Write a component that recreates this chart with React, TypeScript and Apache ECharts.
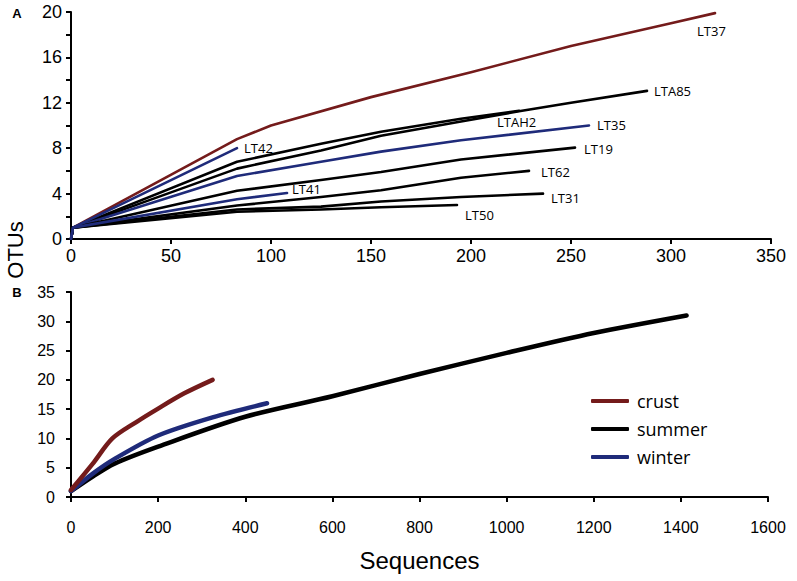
import React, { useEffect, useRef } from "react";
import * as echarts from "echarts";

// ---------- Panel A data (Sequences, OTUs) ----------
const LT37 = [[0, 0], [1, 1], [83, 8.8], [100, 10], [150, 12.5], [200, 14.7], [250, 17], [300, 19], [322, 19.9]];
const LT42 = [[0, 0], [1, 1], [83, 8.0]];
const LTA85 = [[0, 0], [1, 1], [83, 6.2], [125, 7.8], [155, 9.1], [195, 10.35], [224, 11.25], [250, 12.0], [288, 13.05]];
const LTAH2 = [[0, 0], [1, 1], [83, 6.8], [125, 8.4], [155, 9.45], [195, 10.6], [224, 11.3]];
const LT35 = [[0, 0], [1, 1], [83, 5.55], [125, 6.8], [155, 7.7], [195, 8.7], [259, 10.0]];
const LT19 = [[0, 0], [1, 1], [83, 4.25], [125, 5.2], [155, 5.9], [195, 7.0], [252, 8.05]];
const LT41 = [[0, 0], [1, 1], [83, 3.5], [108, 4.05]];
const LT62 = [[0, 0], [1, 1], [83, 2.95], [125, 3.7], [155, 4.3], [195, 5.4], [229, 6.0]];
const LT31 = [[0, 0], [1, 1], [83, 2.6], [125, 2.85], [155, 3.3], [195, 3.7], [236, 4.0]];
const LT50 = [[0, 0], [1, 1], [83, 2.4], [125, 2.6], [155, 2.8], [193, 3.0]];

// ---------- Panel B data ----------
const CRUST = [[0, 1.2], [50, 5.7], [95, 10], [150, 12.8], [200, 15.1], [260, 17.7], [325, 20]];
const WINTER = [[0, 1], [50, 4], [100, 6.5], [200, 10.5], [325, 13.6], [450, 16]];
const SUMMER = [[0, 1], [50, 3.5], [100, 5.7], [200, 8.6], [400, 13.7], [600, 17.2], [800, 21], [1000, 24.6], [1200, 28], [1413, 31]];

const LEGEND_NAMES = ["crust", "summer", "winter"];

// ---------- styles ----------
const RED = "#741b1b";
const BLUE = "#1f2b7a";
const BLACK = "#000000";
const SANS = "Liberation Sans, Arial, sans-serif";
const LABEL_FONT = "Open Sans, sans-serif";

const panelA = [
  { name: "LT37", data: LT37, color: RED, off: [-18, 18] },
  { name: "LTA85", data: LTA85, color: BLACK, off: [7, 0] },
  { name: "LTAH2", data: LTAH2, color: BLACK, off: [-22, 11] },
  { name: "LT35", data: LT35, color: BLUE, off: [8, -1] },
  { name: "LT19", data: LT19, color: BLACK, off: [9, 1] },
  { name: "LT62", data: LT62, color: BLACK, off: [12, 1] },
  { name: "LT31", data: LT31, color: BLACK, off: [8, 4] },
  { name: "LT50", data: LT50, color: BLACK, off: [8, 10] },
  { name: "LT41", data: LT41, color: BLUE, off: [5, -4] },
  { name: "LT42", data: LT42, color: BLUE, off: [7, 0] },
];

const panelB = [
  { name: "summer", data: SUMMER, color: BLACK },
  { name: "winter", data: WINTER, color: BLUE },
  { name: "crust", data: CRUST, color: RED },
];

const axisLine = { show: true, lineStyle: { color: "#000", width: 2 } };
const axisTick = { show: true, length: 5, inside: false, lineStyle: { color: "#000", width: 2 } };
const plain = (v: number) => String(v);

function centered(text: string, size: number, bold: boolean) {
  return {
    text,
    fontSize: size,
    fontWeight: bold ? "bold" : "normal",
    fontFamily: SANS,
    fill: "#000",
    align: "center",
    verticalAlign: "middle",
    textAlign: "center",
    textVerticalAlign: "middle",
  };
}

function buildOption() {
  const seriesA = panelA.map((s) => ({
    type: "line",
    name: s.name,
    xAxisIndex: 0,
    yAxisIndex: 0,
    data: s.data,
    symbol: "none",
    color: s.color,
    lineStyle: { color: s.color, width: 2.6, cap: "round", join: "round" },
    endLabel: {
      show: true,
      formatter: s.name,
      distance: 0,
      offset: s.off,
      align: "left",
      verticalAlign: "middle",
      fontSize: 13,
      fontFamily: LABEL_FONT,
      color: "#000",
    },
    emphasis: { disabled: true },
    z: 3,
  }));
  const seriesB = panelB.map((s) => ({
    type: "line",
    name: s.name,
    xAxisIndex: 1,
    yAxisIndex: 1,
    data: s.data,
    symbol: "none",
    smooth: 0.3,
    color: s.color,
    itemStyle: { color: s.color },
    lineStyle: { color: s.color, width: 4.5, cap: "round", join: "round" },
    emphasis: { disabled: true },
    z: 3,
  }));

  return {
    animation: false,
    backgroundColor: "#fff",
    grid: [
      { left: 71, right: 26, top: 12, bottom: 342 },
      { left: 71, right: 29, top: 292, bottom: 84 },
    ],
    xAxis: [
      {
        type: "value",
        gridIndex: 0,
        min: 0,
        max: 350,
        interval: 50,
        axisLine,
        axisTick,
        splitLine: { show: false },
        axisLabel: { fontSize: 18, fontFamily: SANS, color: "#000", margin: 8, formatter: plain },
      },
      {
        type: "value",
        gridIndex: 1,
        min: 0,
        max: 1600,
        interval: 200,
        axisLine,
        axisTick,
        splitLine: { show: false },
        axisLabel: { fontSize: 16, fontFamily: SANS, color: "#000", margin: 22, formatter: plain },
        name: "Sequences",
        nameLocation: "middle",
        nameGap: 51,
        nameTextStyle: { fontSize: 24, fontFamily: SANS, color: "#000" },
      },
    ],
    yAxis: [
      {
        type: "value",
        gridIndex: 0,
        min: 0,
        max: 20,
        interval: 2,
        axisLine,
        axisTick,
        splitLine: { show: false },
        axisLabel: {
          fontSize: 18,
          fontFamily: SANS,
          color: "#000",
          margin: 9,
          formatter: (v: number) => (v % 4 === 0 ? String(v) : ""),
        },
      },
      {
        type: "value",
        gridIndex: 1,
        min: 0,
        max: 35,
        interval: 5,
        axisLine,
        axisTick,
        splitLine: { show: false },
        axisLabel: { fontSize: 16, fontFamily: SANS, color: "#000", margin: 16, formatter: plain },
      },
    ],
    legend: {
      data: LEGEND_NAMES,
      orient: "vertical",
      left: 586,
      top: 387,
      itemWidth: 38,
      itemHeight: 4,
      itemGap: 10,
      icon: "roundRect",
      selectedMode: false,
      textStyle: { fontSize: 18, fontFamily: LABEL_FONT, color: "#000", padding: [0, 0, 0, 3] },
    },
    graphic: [
      { type: "text", x: 17, y: 13, style: centered("A", 13, true) },
      { type: "text", x: 17, y: 292, style: centered("B", 13, true) },
      { type: "text", x: 15, y: 250, rotation: Math.PI / 2, style: centered("OTUs", 22, false) },
    ],
    series: [...seriesA, ...seriesB],
  };
}

export default function App() {
  const ref = useRef<HTMLDivElement>(null);
  useEffect(() => {
    if (!ref.current) return;
    const chart = echarts.init(ref.current, null, { renderer: "svg" });
    chart.setOption(buildOption() as any);
    return () => chart.dispose();
  }, []);
  return (
    <div
      ref={ref}
      style={{ position: "fixed", left: 0, top: 0, width: 797, height: 581, background: "#fff" }}
    />
  );
}
